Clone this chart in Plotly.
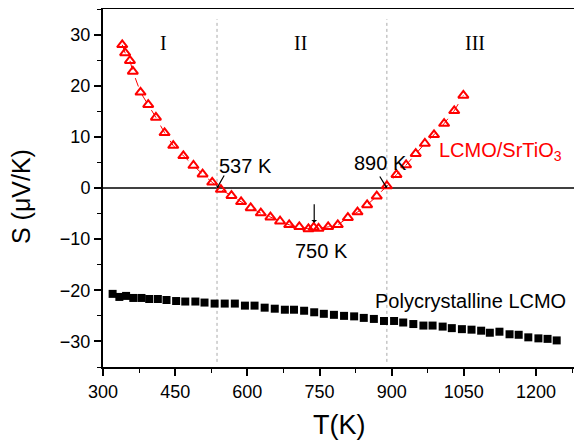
import plotly.graph_objects as go

# LCMO/SrTiO3 film data
T_film = [340, 346, 356, 362, 378, 394, 410, 428, 446, 467, 488, 507, 527, 545, 567, 587, 607,
          628, 648, 668, 687, 708, 727, 738, 748, 768, 788, 809, 829, 849, 869, 890, 910, 930,
          950, 969, 988, 1009, 1030, 1049]
S_film = [28.0, 26.4, 24.9, 22.8, 18.7, 16.3, 13.8, 10.8, 8.3, 6.3, 4.4, 2.7, 1.1, -0.3, -1.5,
          -2.7, -3.9, -4.9, -5.7, -6.5, -7.2, -7.6, -8.0, -7.7, -7.9, -7.6, -7.2, -5.8, -4.7,
          -3.3, -1.6, 0.4, 2.6, 4.5, 6.7, 8.7, 10.4, 12.6, 15.1, 18.1]

# Polycrystalline LCMO data
T_poly = [320, 334, 348, 363, 380, 396, 414, 432, 452, 471, 492, 511, 532, 553, 574, 595, 615,
          636, 657, 678, 697, 718, 739, 759, 780, 801, 822, 842, 863, 884, 905, 924, 945, 966,
          985, 1006, 1025, 1046, 1066, 1086, 1104, 1124, 1145, 1164, 1184, 1205, 1224, 1243]
S_poly = [-20.7, -21.3, -21.1, -21.5, -21.5, -21.7, -21.7, -21.9, -22.1, -22.2, -22.2, -22.4,
          -22.6, -22.6, -22.6, -23.0, -23.0, -23.4, -23.6, -23.8, -23.8, -24.0, -24.3, -24.6,
          -24.8, -25.0, -25.1, -25.4, -25.6, -26.0, -26.0, -26.3, -26.6, -26.9, -26.9, -27.1,
          -27.4, -27.6, -27.7, -27.9, -28.3, -28.1, -28.6, -28.7, -29.2, -29.4, -29.5, -29.8]

T_transitions = [537, 890]
region_labels = ["I", "II", "III"]
region_T = [425, 711, 1073]
x_ticks = [300, 450, 600, 750, 900, 1050, 1200]
y_ticks = [-30, -20, -10, 0, 10, 20, 30]

SANS = "Liberation Sans, Arial, sans-serif"

fig = go.Figure()
fig.add_trace(go.Scatter(x=T_film, y=S_film, mode="lines+markers",
                         line=dict(color="#ff0000", width=1, dash="dash"),
                         marker=dict(symbol="triangle-up-open", size=9, color="#ff0000",
                                     line=dict(width=2, color="#ff0000")),
                         showlegend=False))
fig.add_trace(go.Scatter(x=T_poly, y=S_poly, mode="markers",
                         marker=dict(symbol="square", size=8, color="black"),
                         showlegend=False))

shapes = []
for t in T_transitions:
    shapes.append(dict(type="line", xref="x", yref="y", x0=t, x1=t, y0=-34, y1=33,
                       line=dict(color="#aaaaaa", width=1, dash="dot"), layer="below"))
shapes.append(dict(type="line", xref="paper", yref="y", x0=0, x1=1, y0=0, y1=0,
                   line=dict(color="black", width=1.5), layer="below"))

ann = []
tf = dict(family=SANS, size=20, color="black")
ann.append(dict(x=597, y=4.4, text="537 K", showarrow=False, font=tf))
ann.append(dict(x=876, y=4.8, text="890 K", showarrow=False, font=tf))
ann.append(dict(x=755, y=-12.3, text="750 K", showarrow=False, font=tf))
ann.append(dict(x=537, y=0, text="", showarrow=True, ax=8, ay=-14, arrowhead=1,
                arrowsize=0.6, arrowwidth=1.2, arrowcolor="black"))
ann.append(dict(x=890, y=0, text="", showarrow=True, ax=-8, ay=-13, arrowhead=1,
                arrowsize=0.6, arrowwidth=1.2, arrowcolor="black"))
ann.append(dict(x=739, y=-6.8, text="", showarrow=True, ax=0, ay=-20, arrowhead=1,
                arrowsize=0.8, arrowwidth=1.2, arrowcolor="black"))
ann.append(dict(x=994, y=7.1, text="LCMO/SrTiO<sub>3</sub>", showarrow=False, xanchor="left",
                font=dict(family=SANS, size=20, color="#ff0000")))
ann.append(dict(x=861, y=-22, text="Polycrystalline LCMO", showarrow=False, xanchor="left",
                font=tf))
for lab, t in zip(region_labels, region_T):
    ann.append(dict(x=t, y=28.4, text=lab, showarrow=False,
                    font=dict(family="Liberation Serif, Times New Roman, serif", size=20,
                              color="black")))
# axis titles
ann.append(dict(xref="paper", yref="paper", x=-0.171, y=0.475, text="S (μV/K)",
                xanchor="center", yanchor="middle",
                textangle=-90, showarrow=False, font=dict(family=SANS, size=25, color="black")))
ann.append(dict(xref="paper", yref="paper", x=0.493, y=-0.162, text="T(K)",
                xanchor="center", yanchor="middle",
                showarrow=False, font=dict(family=SANS, size=27, color="black")))

# page body has an 8px default margin; the figure is sized and placed to compensate
fig.update_layout(
    width=574, height=433,
    margin=dict(l=95, r=0, t=1, b=74),
    paper_bgcolor="white", plot_bgcolor="white",
    shapes=shapes, annotations=ann,
    font=dict(family=SANS, color="black"),
)
fig.update_xaxes(range=[300, 1295.6], tickvals=x_ticks, automargin=False,
                 ticks="outside", ticklen=7, tickwidth=1.5, tickcolor="black",
                 showline=True, linecolor="black", linewidth=2, mirror=True,
                 showgrid=False, zeroline=False,
                 tickfont=dict(size=18),
                 minor=dict(dtick=75, tick0=300, ticks="outside", ticklen=4,
                            tickcolor="black", tickwidth=1.2, showgrid=False))
fig.update_yaxes(range=[-35, 35], tickvals=y_ticks, automargin=False,
                 ticks="outside", ticklen=7, tickwidth=1.5, tickcolor="black",
                 showline=True, linecolor="black", linewidth=2,
                 showgrid=False, zeroline=False,
                 tickfont=dict(size=18),
                 minor=dict(dtick=5, tick0=0, ticks="outside", ticklen=4,
                            tickcolor="black", tickwidth=1.2, showgrid=False))

fig.write_html("out.html")
